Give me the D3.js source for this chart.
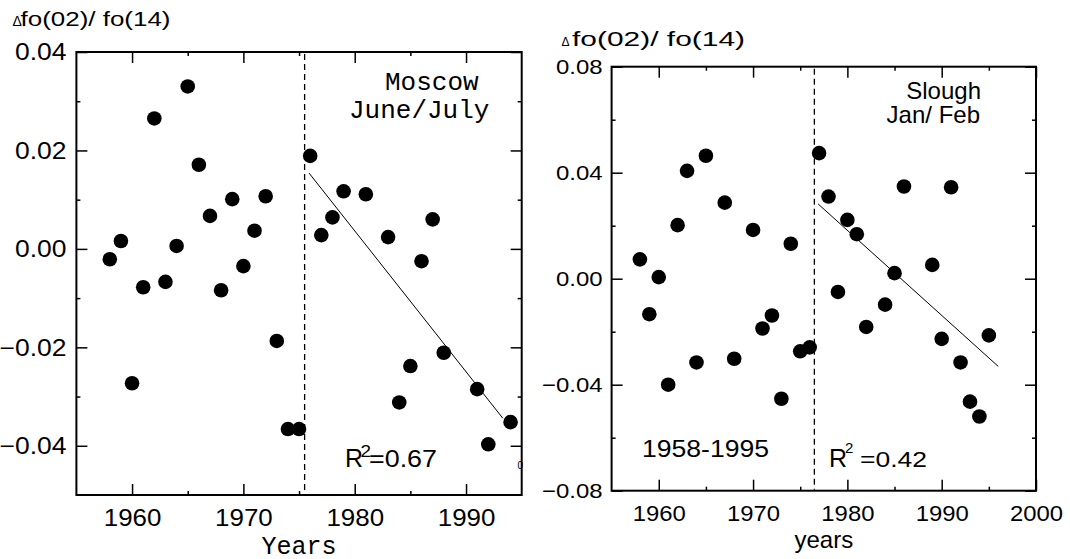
<!DOCTYPE html>
<html>
<head>
<meta charset="utf-8">
<script src="https://cdn.jsdelivr.net/npm/d3@7"></script>
<style>
  body { margin: 0; background: #fff; }
  svg { display: block; font-family: "Liberation Sans", Arial, sans-serif; }
</style>
</head>
<body>
<div id="chart"></div>
<script>
// Moscow, June/July
const moscowYears = [1958, 1959, 1960, 1961, 1962, 1963, 1964, 1965, 1966, 1967, 1968, 1969, 1970, 1971, 1972, 1973,
    1974, 1975, 1976, 1977, 1978, 1979, 1981, 1983, 1984, 1985, 1986, 1987, 1988, 1991, 1992, 1994];
const moscowValues = [-0.0021, 0.0016, -0.0273, -0.0078, 0.0265, -0.0067, 0.0006, 0.0330, 0.0171, 0.0067, -0.0084, 0.0101,
    -0.0035, 0.0037, 0.0107, -0.0187, -0.0366, -0.0366, 0.0189, 0.0028, 0.0064, 0.0117, 0.0111, 0.0024, -0.0312, -0.0238,
    -0.0025, 0.0060, -0.0211, -0.0285, -0.0397, -0.0352];
const moscowTrendYears = [1975.9, 1993.3];
const moscowTrendValues = [0.0154, -0.0344];
const moscowBreak = 1975.5;

// Slough, Jan/Feb
const sloughYears = [1958, 1959, 1960, 1961, 1962, 1963, 1964, 1965, 1967, 1968, 1970, 1971, 1972, 1973, 1974, 1975,
    1976, 1977, 1978, 1979, 1980, 1981, 1982, 1984, 1985, 1986, 1989, 1990, 1991, 1992, 1993, 1994, 1995];
const sloughValues = [0.0073, -0.0134, 0.0006, -0.0400, 0.0202, 0.0407, -0.0316, 0.0464, 0.0287, -0.0302, 0.0184, -0.0188,
    -0.0139, -0.0453, 0.0132, -0.0274, -0.0259, 0.0474, 0.0310, -0.0050, 0.0222, 0.0168, -0.0182, -0.0098, 0.0021, 0.0348,
    0.0052, -0.0227, 0.0345, -0.0316, -0.0464, -0.0520, -0.0214];
const sloughTrendYears = [1976.9, 1996.0];
const sloughTrendValues = [0.0282, -0.0331];
const sloughBreak = 1976.5;

// tick values
const moscowXMajor = [1960, 1970, 1980, 1990];
const moscowXMinor = [1965, 1975, 1985];
const moscowYMajor = [-0.04, -0.02, 0.00, 0.02, 0.04];
const moscowYMinor = [-0.03, -0.01, 0.01, 0.03];
const sloughXMajor = [1960, 1970, 1980, 1990, 2000];
const sloughXMinor = [1965, 1975, 1985, 1995];
const sloughYMajor = [-0.08, -0.04, 0.00, 0.04, 0.08];
const sloughYMinor = [-0.06, -0.02, 0.02, 0.06];

const width = 1070, height = 559;

const svg = d3.select("#chart").append("svg")
    .attr("width", width)
    .attr("height", height);

svg.append("rect").attr("width", width).attr("height", height).attr("fill", "#fff");

// widen text horizontally, the original glyphs are a bit stretched
function stretch(sel, k) {
    sel.each(function() {
        const w = this.getComputedTextLength();
        d3.select(this).attr("textLength", w * k).attr("lengthAdjust", "spacingAndGlyphs");
    });
}

function panel(p) {
    const g = svg.append("g");
    const x = p.x, y = p.y;
    const [x0, x1] = x.range();
    const [yb, yt] = y.range();

    // ticks, all pointing inward
    const axes = [
        [d3.axisBottom(x).tickValues(p.xMajor).tickSize(-11).tickPadding(14).tickFormat(d3.format("d")), `translate(0,${yb})`, "xlab"],
        [d3.axisBottom(x).tickValues(p.xMinor).tickSize(-4).tickFormat(""), `translate(0,${yb})`],
        [d3.axisTop(x).tickValues(p.xMajor).tickSize(-11).tickFormat(""), `translate(0,${yt})`],
        [d3.axisTop(x).tickValues(p.xMinor).tickSize(-4).tickFormat(""), `translate(0,${yt})`],
        [d3.axisLeft(y).tickValues(p.yMajor).tickSize(-11).tickPadding(p.yPad).tickFormat(d3.format(".2f")), `translate(${x0},0)`, "ylab"],
        [d3.axisLeft(y).tickValues(p.yMinor).tickSize(-4).tickFormat(""), `translate(${x0},0)`],
        [d3.axisRight(y).tickValues(p.yMajor).tickSize(-11).tickFormat(""), `translate(${x1},0)`],
        [d3.axisRight(y).tickValues(p.yMinor).tickSize(-4).tickFormat(""), `translate(${x1},0)`]
    ];
    axes.forEach(function(a) {
        const ax = g.append("g").attr("transform", a[1]).call(a[0]);
        ax.select(".domain").remove();
        ax.selectAll(".tick line").attr("stroke", "#000").attr("stroke-width", 1.5);
        ax.selectAll("text").attr("fill", "#000").style("font-family", "Liberation Sans, Arial, sans-serif");
        if (a[2] === "xlab") {
            ax.selectAll("text").style("font-size", p.xFont + "px");
            stretch(ax.selectAll("text"), p.xStretch);
        }
        if (a[2] === "ylab") {
            ax.selectAll("text").style("font-size", p.yFont + "px").attr("dy", "0.34em");
            stretch(ax.selectAll("text"), p.yStretch);
        }
    });

    // frame
    g.append("rect")
        .attr("x", x0).attr("y", yt)
        .attr("width", x1 - x0).attr("height", yb - yt)
        .attr("fill", "none").attr("stroke", "#000").attr("stroke-width", 2);

    // break line
    g.append("line")
        .attr("x1", x(p.brk)).attr("x2", x(p.brk))
        .attr("y1", yt + 2).attr("y2", yb - 1)
        .attr("stroke", "#000").attr("stroke-width", 1.3)
        .attr("stroke-dasharray", "6,4");

    // regression line
    const line = d3.line().x(d => x(d[0])).y(d => y(d[1]));
    g.append("path")
        .datum(d3.zip(p.trendYears, p.trendValues))
        .attr("d", line)
        .attr("fill", "none").attr("stroke", "#000").attr("stroke-width", 1);

    // points
    g.selectAll(".dot")
        .data(d3.zip(p.years, p.values))
        .enter().append("circle")
        .attr("class", "dot")
        .attr("cx", d => x(d[0]))
        .attr("cy", d => y(d[1]))
        .attr("r", 7.3)
        .attr("fill", "#000");

    return g;
}

// left panel: Moscow
const xM = d3.scaleLinear().domain([1955, 1995]).range([76.4, 521.7]);
const yM = d3.scaleLinear().domain([-0.05, 0.04]).range([495, 52]);
const gM = panel({
    x: xM, y: yM,
    xMajor: moscowXMajor, xMinor: moscowXMinor, yMajor: moscowYMajor, yMinor: moscowYMinor,
    years: moscowYears, values: moscowValues,
    trendYears: moscowTrendYears, trendValues: moscowTrendValues,
    brk: moscowBreak,
    xFont: 24, xStretch: 1.08, yFont: 23, yStretch: 1.15, yPad: 10
});

// right panel: Slough
const xS = d3.scaleLinear().domain([1955, 2000]).range([611.6, 1036]);
const yS = d3.scaleLinear().domain([-0.08, 0.08]).range([490.7, 66.7]);
const gS = panel({
    x: xS, y: yS,
    xMajor: sloughXMajor, xMinor: sloughXMinor, yMajor: sloughYMajor, yMinor: sloughYMinor,
    years: sloughYears, values: sloughValues,
    trendYears: sloughTrendYears, trendValues: sloughTrendValues,
    brk: sloughBreak,
    xFont: 22.5, xStretch: 1.06, yFont: 21, yStretch: 1.14, yPad: 9
});

// titles
svg.append("text").attr("x", 12.5).attr("y", 26).style("font-size", "14px").text("\u0394");
svg.append("text").attr("x", 20.5).attr("y", 26).style("font-size", "20px")
    .attr("textLength", 150).attr("lengthAdjust", "spacingAndGlyphs")
    .text("fo(02)/ fo(14)");

svg.append("text").attr("x", 561.5).attr("y", 46).style("font-size", "12px").text("\u0394");
svg.append("text").attr("x", 572).attr("y", 46).style("font-size", "20px")
    .attr("textLength", 173).attr("lengthAdjust", "spacingAndGlyphs")
    .text("fo(02)/ fo(14)");

// Moscow labels (Courier)
const mono = "Liberation Mono, Courier New, monospace";
svg.append("text").attr("x", 385).attr("y", 90).style("font-family", mono).style("font-size", "26px").text("Moscow");
svg.append("text").attr("x", 349).attr("y", 118).style("font-family", mono).style("font-size", "26px").text("June/July");
svg.append("text").attr("x", 299).attr("y", 554).attr("text-anchor", "middle")
    .style("font-family", mono).style("font-size", "25px").text("Years");
svg.append("text").attr("x", 517.5).attr("y", 469).style("font-size", "10px").text("0");

svg.append("text").attr("x", 345).attr("y", 466.7).style("font-size", "25px").text("R");
svg.append("text").attr("x", 360.5).attr("y", 457).style("font-size", "16px")
    .attr("textLength", 10.5).attr("lengthAdjust", "spacingAndGlyphs").text("2");
svg.append("text").attr("x", 369).attr("y", 466.7).style("font-size", "24px")
    .attr("textLength", 68).attr("lengthAdjust", "spacingAndGlyphs").text("=0.67");

// Slough labels
svg.append("text").attr("x", 981).attr("y", 99.3).attr("text-anchor", "end").style("font-size", "24px").text("Slough");
svg.append("text").attr("x", 980).attr("y", 122.7).attr("text-anchor", "end").style("font-size", "24px").text("Jan/ Feb");
svg.append("text").attr("x", 642).attr("y", 456.7).style("font-size", "24px")
    .attr("textLength", 127).attr("lengthAdjust", "spacingAndGlyphs").text("1958-1995");
svg.append("text").attr("x", 829).attr("y", 467.3).style("font-size", "25px").text("R");
svg.append("text").attr("x", 845).attr("y", 453.3).style("font-size", "15px").text("2");
svg.append("text").attr("x", 860).attr("y", 467.3).style("font-size", "22px")
    .attr("textLength", 67).attr("lengthAdjust", "spacingAndGlyphs").text("=0.42");
svg.append("text").attr("x", 823.8).attr("y", 548).attr("text-anchor", "middle").style("font-size", "24px").text("years");
</script>
</body>
</html>
